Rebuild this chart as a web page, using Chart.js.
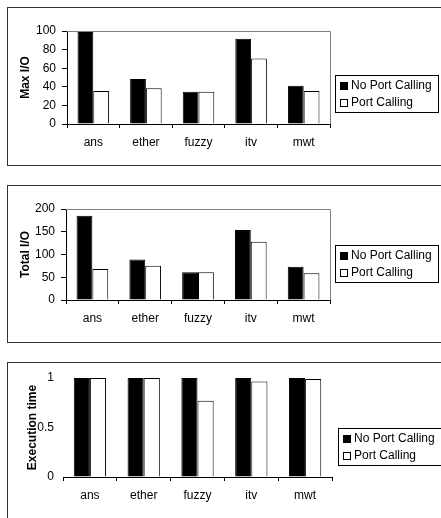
<!DOCTYPE html>
<html>
<head>
<meta charset="utf-8">
<script src="https://cdn.jsdelivr.net/npm/chart.js@4"></script>
<style>
  body { margin: 0; background: #fff; width: 441px; height: 518px; overflow: hidden; position: relative; }
  .frame { position: absolute; left: 7px; width: 460px; border: 1px solid #333; box-sizing: border-box; }
  canvas { position: absolute; left: 0; }
</style>
</head>
<body>
<div class="frame" style="top:7px;height:159px"></div>
<div class="frame" style="top:185px;height:158px"></div>
<div class="frame" style="top:362px;height:200px"></div>
<canvas id="maxIoChart" width="441" height="175" style="top:0"></canvas>
<canvas id="totalIoChart" width="441" height="175" style="top:175px"></canvas>
<canvas id="execChart" width="441" height="168" style="top:350px"></canvas>
<script>
const categories = ['ans', 'ether', 'fuzzy', 'itv', 'mwt'];
const seriesNames = ['No Port Calling', 'Port Calling'];

const maxIoNoPort = [99, 48.5, 34.8, 91.8, 41];
const maxIoPort = [35.5, 38.5, 34.8, 70.5, 35.5];
const maxIoTicks = [0, 20, 40, 60, 80, 100];

const totalIoNoPort = [185, 89, 61, 154, 73];
const totalIoPort = [68, 75.5, 61, 128, 59];
const totalIoTicks = [0, 50, 100, 150, 200];

const execNoPort = [1, 1, 1, 1, 1];
const execPort = [1, 1, 0.77, 0.965, 0.99];
const execTicks = [0, 0.5, 1];

Chart.defaults.font.family = 'Arial, "Liberation Sans", sans-serif';
Chart.defaults.font.size = 12;
Chart.defaults.color = '#000';

// grey frame on top/right of plot + boxed legend
const boxPlugin = {
    id: 'boxes',
    afterDraw(chart, args, opts) {
        const ctx = chart.ctx;
        const a = chart.chartArea;
        ctx.save();
        if (opts.plotFrame) {
            ctx.strokeStyle = '#808080';
            ctx.lineWidth = 1;
            ctx.beginPath();
            ctx.moveTo(a.left, a.top + 0.5);
            ctx.lineTo(a.right + 0.5, a.top + 0.5);
            ctx.lineTo(a.right + 0.5, a.bottom);
            ctx.stroke();
        }
        const L = opts.legend;
        ctx.strokeStyle = '#000';
        ctx.strokeRect(L.x + 0.5, L.y + 0.5, L.w, L.h);
        ctx.font = '12px Arial, "Liberation Sans", sans-serif';
        ctx.textBaseline = 'middle';
        chart.data.datasets.forEach((ds, i) => {
            const cy = L.y + L.rows[i];
            ctx.fillStyle = ds.backgroundColor;
            ctx.fillRect(L.x + 5, cy - 4, 8, 8);
            ctx.strokeStyle = '#000';
            ctx.strokeRect(L.x + 5.5, cy - 3.5, 7, 7);
            ctx.fillStyle = '#000';
            ctx.fillText(ds.label, L.x + 16, cy);
        });
        ctx.restore();
    }
};

function makeChart(id, noPort, port, ticks, title, g) {
    const ctx = document.getElementById(id).getContext('2d');
    return new Chart(ctx, {
        type: 'bar',
        data: {
            labels: categories,
            datasets: [
                { label: seriesNames[0], data: noPort, backgroundColor: '#000', borderColor: '#000', borderWidth: 1 },
                { label: seriesNames[1], data: port, backgroundColor: '#fff', borderColor: '#000', borderWidth: 1 }
            ]
        },
        options: {
            responsive: false,
            animation: false,
            devicePixelRatio: 1,
            layout: { padding: { top: g.top, right: g.right, bottom: 0, left: 0 } },
            datasets: { bar: { categoryPercentage: 0.6, barPercentage: 1 } },
            plugins: {
                legend: { display: false },
                tooltip: { enabled: false },
                boxes: { plotFrame: g.frame, legend: g.legend }
            },
            scales: {
                x: {
                    grid: { drawOnChartArea: false, tickLength: 4, color: '#000' },
                    border: { color: '#000' },
                    ticks: { padding: 7, maxRotation: 0 },
                    afterFit: s => { s.height = g.xh; }
                },
                y: {
                    min: ticks[0],
                    max: ticks[ticks.length - 1],
                    afterBuildTicks: s => { s.ticks = ticks.map(v => ({ value: v })); },
                    grid: { drawOnChartArea: false, tickLength: 5, color: g.frame ? '#000' : 'transparent' },
                    border: { display: g.frame, color: '#000' },
                    ticks: { padding: g.frame ? 6 : 4, callback: v => String(v) },
                    title: { display: true, text: title, font: { weight: 'bold', size: 12 }, padding: { top: g.titlePad, bottom: 0 } },
                    afterFit: s => { s.width = g.left; }
                }
            }
        },
        plugins: [boxPlugin]
    });
}

makeChart('maxIoChart', maxIoNoPort, maxIoPort, maxIoTicks, 'Max I/O', {
    top: 31, right: 111, left: 67, xh: 51, titlePad: 18, frame: true,
    legend: { x: 335, y: 75, w: 103, h: 37, rows: [11, 28] }
});
makeChart('totalIoChart', totalIoNoPort, totalIoPort, totalIoTicks, 'Total I/O', {
    top: 34, right: 111, left: 66, xh: 50, titlePad: 18, frame: true,
    legend: { x: 335, y: 70, w: 103, h: 37, rows: [11, 28] }
});
makeChart('execChart', execNoPort, execPort, execTicks, 'Execution time', {
    top: 28, right: 109, left: 63, xh: 41, titlePad: 25, frame: false,
    legend: { x: 338, y: 78, w: 103, h: 37, rows: [11, 28] }
});
</script>
</body>
</html>
